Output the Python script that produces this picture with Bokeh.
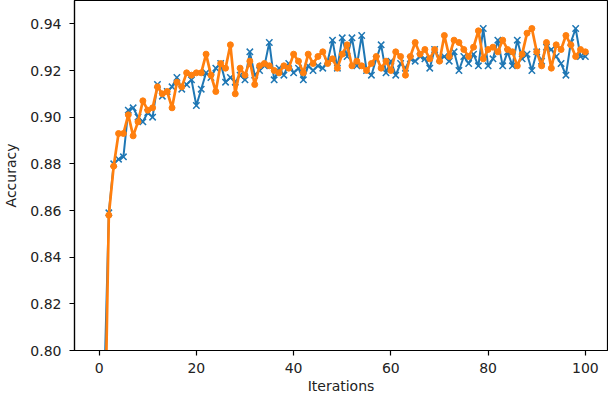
from bokeh.plotting import figure
from bokeh.models import FixedTicker, PrintfTickFormatter, Range1d
from bokeh.embed import file_html
from bokeh.resources import INLINE

iterations = list(range(1, 101))

acc_blue = [
    0.780, 0.859, 0.880, 0.882, 0.883, 0.903, 0.904, 0.900, 0.898, 0.902,
    0.900, 0.914, 0.909, 0.911, 0.913, 0.917, 0.912, 0.914, 0.916, 0.905,
    0.912, 0.919, 0.917, 0.921, 0.923, 0.915, 0.917, 0.915, 0.918, 0.916,
    0.928, 0.918, 0.920, 0.922, 0.932, 0.916, 0.921, 0.918, 0.923, 0.919,
    0.921, 0.916, 0.922, 0.920, 0.922, 0.921, 0.924, 0.933, 0.921, 0.934,
    0.926, 0.934, 0.922, 0.935, 0.920, 0.918, 0.925, 0.931, 0.919, 0.924,
    0.918, 0.923, 0.921, 0.925, 0.924, 0.926, 0.925, 0.921, 0.929, 0.925,
    0.926, 0.924, 0.928, 0.920, 0.926, 0.923, 0.927, 0.922, 0.938, 0.922,
    0.925, 0.933, 0.922, 0.928, 0.922, 0.933, 0.925, 0.927, 0.920, 0.928,
    0.924, 0.930, 0.929, 0.926, 0.923, 0.918, 0.932, 0.938, 0.926, 0.926,
]

acc_orange = [
    0.740, 0.858, 0.879, 0.893, 0.893, 0.901, 0.892, 0.898, 0.907, 0.903,
    0.904, 0.913, 0.910, 0.911, 0.904, 0.915, 0.913, 0.919, 0.918, 0.919,
    0.919, 0.927, 0.918, 0.911, 0.923, 0.921, 0.931, 0.910, 0.921, 0.918,
    0.924, 0.914, 0.922, 0.923, 0.922, 0.920, 0.919, 0.922, 0.921, 0.927,
    0.924, 0.919, 0.927, 0.923, 0.926, 0.928, 0.923, 0.925, 0.921, 0.927,
    0.931, 0.922, 0.924, 0.922, 0.920, 0.923, 0.926, 0.921, 0.924, 0.920,
    0.928, 0.926, 0.918, 0.926, 0.932, 0.927, 0.929, 0.925, 0.929, 0.924,
    0.935, 0.926, 0.933, 0.932, 0.929, 0.926, 0.930, 0.937, 0.925, 0.929,
    0.930, 0.928, 0.933, 0.929, 0.928, 0.922, 0.927, 0.936, 0.938, 0.928,
    0.922, 0.932, 0.921, 0.931, 0.929, 0.935, 0.931, 0.926, 0.929, 0.928,
]

x_ticks = [0, 20, 40, 60, 80, 100]
y_ticks = [0.80, 0.82, 0.84, 0.86, 0.88, 0.90, 0.92, 0.94]
x_title = "Iterations"
y_title = "Accuracy"

BLUE = "#1f77b4"
ORANGE = "#ff7f0e"
FONT = "DejaVu Sans"

p = figure(width=608, height=398, output_backend="svg", toolbar_location=None,
           x_range=Range1d(-5.06, 104.55), y_range=Range1d(0.80, 0.950),
           min_border_left=72, min_border_right=1, min_border_top=0,
           min_border_bottom=48)

p.line(iterations, acc_blue, line_color=BLUE, line_width=2)
p.scatter(iterations, acc_blue, marker="x", size=9, line_color=BLUE, line_width=1.5)
p.line(iterations, acc_orange, line_color=ORANGE, line_width=2.7)
p.scatter(iterations, acc_orange, marker="circle", size=6, fill_color=ORANGE,
          line_color=ORANGE)

p.xgrid.visible = False
p.ygrid.visible = False
p.outline_line_color = "black"
p.outline_line_width = 1.2
p.outline_line_alpha = 1.0

p.xaxis.ticker = FixedTicker(ticks=x_ticks)
p.yaxis.ticker = FixedTicker(ticks=y_ticks)
p.yaxis.formatter = PrintfTickFormatter(format="%.2f")
p.xaxis.axis_label = x_title
p.yaxis.axis_label = y_title

for ax in (p.xaxis, p.yaxis):
    ax.axis_line_color = "black"
    ax.axis_line_width = 1.2
    ax.major_tick_line_color = "black"
    ax.major_tick_line_width = 1.2
    ax.major_tick_in = 0
    ax.major_tick_out = 5
    ax.minor_tick_line_color = None
    ax.major_label_text_font = FONT
    ax.major_label_text_font_size = "14px"
    ax.major_label_text_color = "#222222"
    ax.axis_label_text_font = FONT
    ax.axis_label_text_font_size = "14px"
    ax.axis_label_text_font_style = "normal"
    ax.axis_label_text_color = "#222222"

p.xaxis.major_label_standoff = 7
p.xaxis.axis_label_standoff = 2
p.yaxis.major_label_standoff = 8
p.yaxis.axis_label_standoff = 8

open("out.html", "w").write(file_html(p, INLINE))
